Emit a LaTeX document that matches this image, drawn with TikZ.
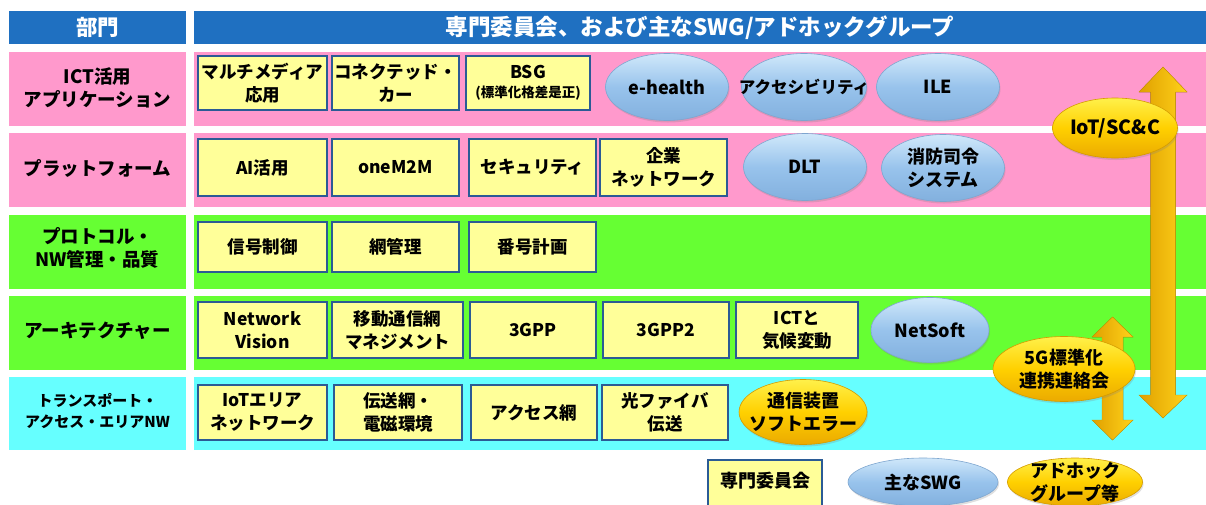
\documentclass[tikz,border=0pt]{standalone}
\usepackage{fontspec}
\setmainfont{Noto Sans CJK JP}
\usetikzlibrary{shapes.geometric,shadows}
\definecolor{hdr}{HTML}{1F70C1}
\definecolor{rowpink}{HTML}{FF99CC}
\definecolor{rowgreen}{HTML}{66FF33}
\definecolor{rowcyan}{HTML}{66FFFF}
\definecolor{boxyel}{HTML}{FFFF99}
\definecolor{boxblue}{HTML}{2B5B95}
\definecolor{bluetop}{HTML}{D0E8FA}
\definecolor{bluemid}{HTML}{98C3EC}
\definecolor{bluebot}{HTML}{82B0DE}
\definecolor{blueedge}{HTML}{7EA6CF}
\definecolor{goldtop}{HTML}{FFF04A}
\definecolor{goldmid}{HTML}{FFD000}
\definecolor{goldbot}{HTML}{EBAA00}
\definecolor{goldedge}{HTML}{D49C00}
\definecolor{arrdark}{HTML}{E0A000}
\definecolor{arrlight}{HTML}{FFD21A}
\begin{document}
\begin{tikzpicture}[x=1pt,y=-1pt,
  hdrbox/.style={fill=hdr,draw=none,text=white,inner sep=0pt},
  rowlbl/.style={align=center,font=\bfseries\fontsize{18.5}{23}\selectfont},
  ybox/.style={draw=boxblue,line width=1.3pt,fill=boxyel,align=center,inner sep=0pt,
    font=\bfseries\fontsize{17.5}{23}\selectfont},
  bluell/.style={ellipse,draw=blueedge,line width=0.6pt,top color=bluetop,bottom color=bluebot,middle color=bluemid,
    inner sep=0pt,drop shadow={shadow xshift=1pt,shadow yshift=-2pt,opacity=0.25}},
  goldell/.style={ellipse,draw=goldedge,line width=0.6pt,top color=goldtop,bottom color=goldbot,middle color=goldmid,
    inner sep=0pt,drop shadow={shadow xshift=1pt,shadow yshift=-2pt,opacity=0.25}},
  elltxt/.style={align=center,inner sep=0pt,font=\bfseries\fontsize{18}{23}\selectfont},
  goldarrow/.style={left color=arrdark,right color=arrlight,draw=goldedge,line width=0.4pt}
]
\useasboundingbox (0,0) rectangle (1206,504);
\clip (0,0) rectangle (1206,504);
% header
\node[hdrbox,minimum width=177pt,minimum height=33pt,font=\bfseries\fontsize{21.5}{24}\selectfont] (h1) at (97.5,27.5) {部門};
\node[hdrbox,minimum width=1012pt,minimum height=33pt,font=\bfseries\fontsize{22.5}{25}\selectfont] (h2) at (700,27.5) {専門委員会、および主なSWG/アドホックグループ};
% rows
\fill[rowpink] (9,52) rectangle (186,126);
\fill[rowpink] (194,52) rectangle (1206,126);
\fill[rowpink] (9,133) rectangle (186,207);
\fill[rowpink] (194,133) rectangle (1206,207);
\fill[rowgreen] (9,215) rectangle (186,289);
\fill[rowgreen] (194,215) rectangle (1206,289);
\fill[rowgreen] (9,296) rectangle (186,370);
\fill[rowgreen] (194,296) rectangle (1206,370);
\fill[rowcyan] (9,377) rectangle (186,450);
\fill[rowcyan] (194,377) rectangle (1206,450);
% row labels
\node[rowlbl] (l1) at (97.5,88) {ICT活用\\アプリケーション};
\node[rowlbl] (l2) at (97.5,168) {プラットフォーム};
\node[rowlbl] (l3) at (97.5,248) {プロトコル・\\NW管理・品質};
\node[rowlbl] (l4) at (97.5,331) {アーキテクチャー};
\node[rowlbl,font=\bfseries\fontsize{15}{21}\selectfont] (l5) at (97.5,411) {トランスポート・\\アクセス・エリアNW};
% row 1
\node[ybox,minimum width=129pt,minimum height=54pt] (a1) at (262.5,83) {マルチメディア\\応用};
\node[ybox,minimum width=127pt,minimum height=54pt] (a2) at (395.5,83) {コネクテッド・\\カー};
\node[ybox,minimum width=124pt,minimum height=54pt] (a3) at (528,83) {BSG\\[-4pt]{\fontsize{13.5}{16}\selectfont (標準化格差是正)}};
\node[bluell,minimum width=123pt,minimum height=67pt] (a4) at (667,87) {};
\node[elltxt] (a4t) at (a4) {e-health};
\node[bluell,minimum width=125pt,minimum height=67pt] (a5) at (804,87) {};
\node[elltxt,font=\bfseries\fontsize{16.5}{20}\selectfont] (a5t) at (a5) {アクセシビリティ};
\node[bluell,minimum width=123pt,minimum height=67pt] (a6) at (938,87) {};
\node[elltxt] (a6t) at (a6) {ILE};
% row 2
\node[ybox,minimum width=129pt,minimum height=57pt] (b1) at (262.5,167.5) {AI活用};
\node[ybox,minimum width=127pt,minimum height=57pt] (b2) at (395.5,167.5) {oneM2M};
\node[ybox,minimum width=127pt,minimum height=57pt] (b3) at (532.5,167.5) {セキュリティ};
\node[ybox,minimum width=127pt,minimum height=57pt] (b4) at (663.5,167.5) {企業\\ネットワーク};
\node[bluell,minimum width=123pt,minimum height=67pt] (b5) at (805,167) {};
\node[elltxt] (b5t) at (b5) {DLT};
\node[bluell,minimum width=123pt,minimum height=67pt] (b6) at (943,168) {};
\node[elltxt] (b6t) at (b6) {消防司令\\システム};
% row 3
\node[ybox,minimum width=129pt,minimum height=50pt] (c1) at (262.5,247) {信号制御};
\node[ybox,minimum width=127pt,minimum height=50pt] (c2) at (395.5,247) {網管理};
\node[ybox,minimum width=127pt,minimum height=50pt] (c3) at (532.5,247) {番号計画};
% row 4
\node[ybox,minimum width=129pt,minimum height=56pt] (d1) at (262.5,330) {Network\\Vision};
\node[ybox,minimum width=131pt,minimum height=56pt] (d2) at (397.5,330) {移動通信網\\マネジメント};
\node[ybox,minimum width=126pt,minimum height=56pt] (d3) at (533,330) {3GPP};
\node[ybox,minimum width=126pt,minimum height=56pt] (d4) at (666,330) {3GPP2};
\node[ybox,minimum width=122pt,minimum height=56pt] (d5) at (797,330) {ICTと\\気候変動};
\node[bluell,minimum width=118pt,minimum height=65pt] (d6) at (930,330) {};
\node[elltxt] (d6t) at (d6) {NetSoft};
% row 5
\node[ybox,minimum width=129pt,minimum height=55pt] (e1) at (262.5,412.5) {IoTエリア\\ネットワーク};
\node[ybox,minimum width=128pt,minimum height=55pt] (e2) at (398,412.5) {伝送網・\\電磁環境};
\node[ybox,minimum width=126pt,minimum height=55pt] (e3) at (534,412.5) {アクセス網};
\node[ybox,minimum width=126pt,minimum height=55pt] (e4) at (665,412.5) {光ファイバ\\伝送};
\node[goldell,minimum width=128pt,minimum height=65pt] (e5) at (803,412) {};
\node[elltxt] (e5t) at (e5) {通信装置\\ソフトエラー};
% arrows
\fill[goldarrow] (1163,67) -- (1187,92) -- (1175.5,92) -- (1175.5,395) -- (1187,395) -- (1163,418)
  -- (1139,395) -- (1150.5,395) -- (1150.5,92) -- (1139,92) -- cycle;
\fill[goldarrow] (1112.5,317) -- (1133,337) -- (1123,337) -- (1123,420) -- (1133,420) -- (1112.5,440)
  -- (1092,420) -- (1102,420) -- (1102,337) -- (1092,337) -- cycle;
\node[goldell,minimum width=125pt,minimum height=60pt] (iot) at (1115,128) {};
\node[elltxt,font=\bfseries\fontsize{19.5}{23}\selectfont] (iott) at (iot) {IoT/SC\&C};
\node[goldell,minimum width=142pt,minimum height=65pt] (g5) at (1064,369) {};
\node[elltxt] (g5t) at (g5) {5G標準化\\連携連絡会};
% legend
\node[ybox,minimum width=114pt,minimum height=60pt] (k1) at (765,490) {};
\node[elltxt] (k1t) at (765,481) {専門委員会};
\node[bluell,minimum width=150pt,minimum height=48pt] (k2) at (923,482) {};
\node[elltxt] (k2t) at (k2) {主なSWG};
\node[goldell,minimum width=135pt,minimum height=48pt] (k3) at (1075,482) {};
\node[elltxt] (k3t) at (k3) {アドホック\\グループ等};
\end{tikzpicture}
\end{document}
